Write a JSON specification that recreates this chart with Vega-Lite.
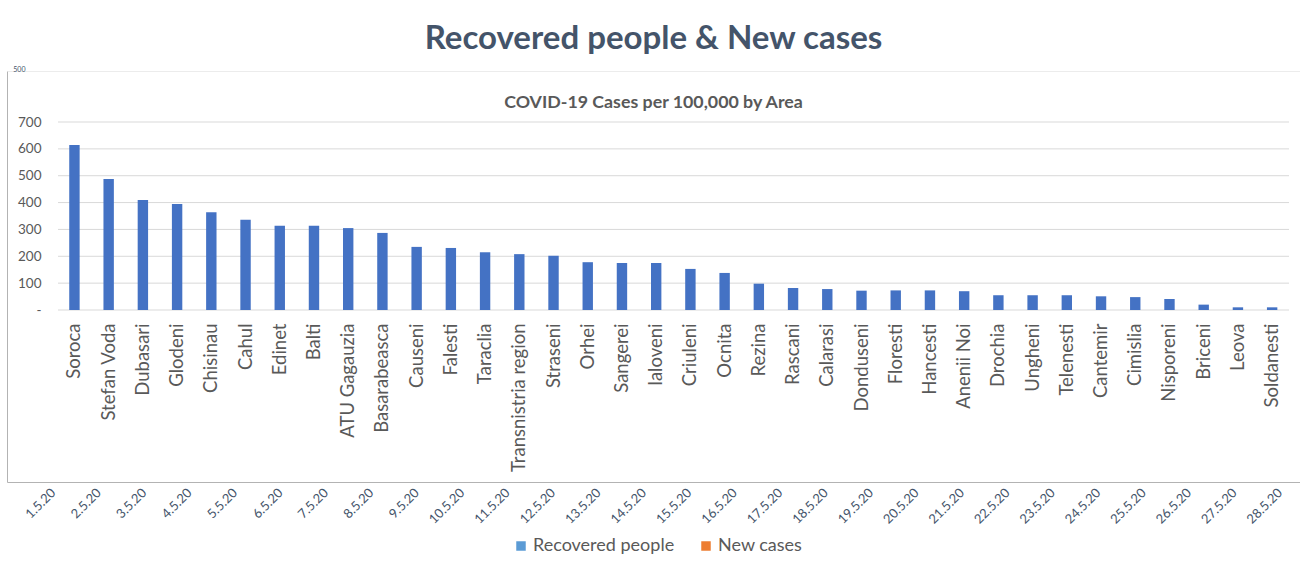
{
  "$schema": "https://vega.github.io/schema/vega-lite/v6.json",
  "width": 1293,
  "height": 411,
  "autosize": {"type": "none"},
  "padding": {"left": 7, "top": 71, "right": 0, "bottom": 84},
  "background": "white",
  "config": {
    "font": "Lato",
    "view": {"stroke": "#b3b3b3", "strokeWidth": 1},
    "axis": {"labelColor": "#595959", "labelFont": "Lato"}
  },
  "title": {
    "text": "Recovered people & New cases",
    "subtitle": "COVID-19 Cases per 100,000 by Area",
    "anchor": "middle",
    "frame": "group",
    "fontSize": 33,
    "fontWeight": "bold",
    "color": "#44546A",
    "subtitleFontSize": 17.8,
    "subtitleFontWeight": "bold",
    "subtitleColor": "#595959",
    "subtitlePadding": 38,
    "offset": -47
  },
  "layer": [
    {
      "data": {"values": [
        {"date": "1.5.20", "Recovered people": 0, "New cases": 0},
        {"date": "2.5.20", "Recovered people": 0, "New cases": 0},
        {"date": "3.5.20", "Recovered people": 0, "New cases": 0},
        {"date": "4.5.20", "Recovered people": 0, "New cases": 0},
        {"date": "5.5.20", "Recovered people": 0, "New cases": 0},
        {"date": "6.5.20", "Recovered people": 0, "New cases": 0},
        {"date": "7.5.20", "Recovered people": 0, "New cases": 0},
        {"date": "8.5.20", "Recovered people": 0, "New cases": 0},
        {"date": "9.5.20", "Recovered people": 0, "New cases": 0},
        {"date": "10.5.20", "Recovered people": 0, "New cases": 0},
        {"date": "11.5.20", "Recovered people": 0, "New cases": 0},
        {"date": "12.5.20", "Recovered people": 0, "New cases": 0},
        {"date": "13.5.20", "Recovered people": 0, "New cases": 0},
        {"date": "14.5.20", "Recovered people": 0, "New cases": 0},
        {"date": "15.5.20", "Recovered people": 0, "New cases": 0},
        {"date": "16.5.20", "Recovered people": 0, "New cases": 0},
        {"date": "17.5.20", "Recovered people": 0, "New cases": 0},
        {"date": "18.5.20", "Recovered people": 0, "New cases": 0},
        {"date": "19.5.20", "Recovered people": 0, "New cases": 0},
        {"date": "20.5.20", "Recovered people": 0, "New cases": 0},
        {"date": "21.5.20", "Recovered people": 0, "New cases": 0},
        {"date": "22.5.20", "Recovered people": 0, "New cases": 0},
        {"date": "23.5.20", "Recovered people": 0, "New cases": 0},
        {"date": "24.5.20", "Recovered people": 0, "New cases": 0},
        {"date": "25.5.20", "Recovered people": 0, "New cases": 0},
        {"date": "26.5.20", "Recovered people": 0, "New cases": 0},
        {"date": "27.5.20", "Recovered people": 0, "New cases": 0},
        {"date": "28.5.20", "Recovered people": 0, "New cases": 0}
      ]},
      "transform": [{"fold": ["Recovered people", "New cases"], "as": ["series", "value"]}],
      "mark": {"type": "bar"},
      "encoding": {
        "x": {
          "field": "date", "type": "ordinal", "sort": null,
          "scale": {"paddingInner": 0.3, "paddingOuter": 0.38, "align": 0.765},
          "axis": {"orient": "bottom", "title": null, "labelAngle": -45, "labelFontSize": 13, "labelColor": "#44546A", "domain": false, "ticks": false, "labelPadding": 4}
        },
        "xOffset": {"field": "series", "type": "nominal", "sort": null},
        "y": {
          "field": "value", "type": "quantitative",
          "scale": {"domain": [0, 500], "nice": false},
          "axis": {"orient": "left", "title": null, "values": [500], "offset": -26, "domain": false, "ticks": false, "labelFontSize": 7, "labelPadding": 8, "labelBaseline": "alphabetic", "labelColor": "#44546A", "gridColor": "#ececec"}
        },
        "color": {
          "field": "series", "type": "nominal",
          "scale": {"domain": ["Recovered people", "New cases"], "range": ["#5B9BD5", "#ED7D31"]},
          "legend": {"title": null, "orient": "none", "legendX": 505, "legendY": 466, "direction": "horizontal", "symbolType": "square", "symbolSize": 90, "symbolStrokeWidth": 0, "labelFontSize": 18, "labelColor": "#595959", "labelFont": "Lato", "labelOffset": 3, "columnPadding": 22, "padding": 0}
        }
      }
    },
    {
      "data": {"values": [
        {"area": "Soroca", "value": 614},
        {"area": "Stefan Voda", "value": 488},
        {"area": "Dubasari", "value": 410},
        {"area": "Glodeni", "value": 395},
        {"area": "Chisinau", "value": 364},
        {"area": "Cahul", "value": 336},
        {"area": "Edinet", "value": 314},
        {"area": "Balti", "value": 314},
        {"area": "ATU Gagauzia", "value": 305},
        {"area": "Basarabeasca", "value": 287},
        {"area": "Causeni", "value": 235},
        {"area": "Falesti", "value": 231},
        {"area": "Taraclia", "value": 215},
        {"area": "Transnistria region", "value": 208},
        {"area": "Straseni", "value": 202},
        {"area": "Orhei", "value": 178},
        {"area": "Sangerei", "value": 175},
        {"area": "Ialoveni", "value": 175},
        {"area": "Criuleni", "value": 153},
        {"area": "Ocnita", "value": 138},
        {"area": "Rezina", "value": 98},
        {"area": "Rascani", "value": 82},
        {"area": "Calarasi", "value": 78},
        {"area": "Donduseni", "value": 72},
        {"area": "Floresti", "value": 73},
        {"area": "Hancesti", "value": 73},
        {"area": "Anenii Noi", "value": 70},
        {"area": "Drochia", "value": 55},
        {"area": "Ungheni", "value": 55},
        {"area": "Telenesti", "value": 55},
        {"area": "Cantemir", "value": 51},
        {"area": "Cimislia", "value": 48},
        {"area": "Nisporeni", "value": 41},
        {"area": "Briceni", "value": 20},
        {"area": "Leova", "value": 10},
        {"area": "Soldanesti", "value": 10}
      ]},
      "layer": [
        {
          "data": {"values": [{"g": 0}, {"g": 100}, {"g": 200}, {"g": 300}, {"g": 400}, {"g": 500}, {"g": 600}, {"g": 700}]},
          "mark": {"type": "rule", "color": "#d9d9d9", "strokeWidth": 1},
          "encoding": {
            "y": {
              "field": "g", "type": "quantitative",
              "scale": {"domain": [-640.4, 889.9], "nice": false, "zero": false},
              "axis": {"orient": "left", "title": null, "values": [0, 100, 200, 300, 400, 500, 600, 700], "labelExpr": "datum.value == 0 ? '-' : datum.label", "offset": -51, "labelPadding": 17, "ticks": false, "domain": false, "grid": false, "labelFontSize": 13.5, "labelColor": "#595959"}
            },
            "x": {"datum": 0, "type": "quantitative", "scale": {"domain": [-0.04143, 1.00893], "nice": false, "zero": false}, "axis": null},
            "x2": {"datum": 1}
          }
        },
        {
          "mark": {"type": "bar", "color": "#4472C4", "width": {"band": 0.304}},
          "encoding": {
            "x": {
              "field": "area", "type": "nominal", "sort": null,
              "scale": {"paddingInner": 0, "paddingOuter": 0.8925, "align": 0.824},
              "axis": {"orient": "bottom", "title": null, "labelAngle": -90, "labelAlign": "right", "labelBaseline": "middle", "labelFontSize": 18.5, "labelColor": "#595959", "domain": false, "ticks": false, "labelPadding": 13, "offset": -172, "labelLimit": 300}
            },
            "y": {
              "field": "value", "type": "quantitative",
              "scale": {"domain": [-640.4, 889.9], "nice": false, "zero": false}
            }
          }
        }
      ],
      "resolve": {"scale": {"x": "independent"}}
    }
  ],
  "resolve": {
    "scale": {"x": "independent", "y": "independent", "color": "independent"},
    "axis": {"x": "independent", "y": "independent"}
  }
}
